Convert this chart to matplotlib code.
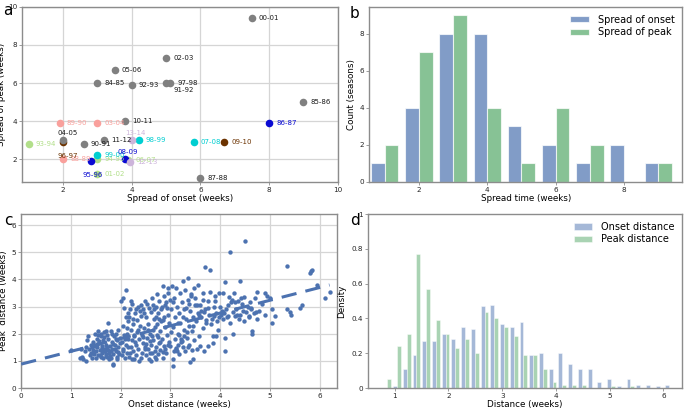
import numpy as np
import matplotlib
matplotlib.use("Agg")
import matplotlib.pyplot as plt
from matplotlib.ticker import FuncFormatter

# ---------------- data: panel a ----------------
seasons = ["84-85", "85-86", "86-87", "87-88", "88-89", "89-90", "90-91", "91-92",
           "92-93", "93-94", "94-95", "95-96", "96-97", "97-98", "98-99", "99-00",
           "00-01", "01-02", "02-03", "03-04", "04-05", "05-06", "06-07", "07-08",
           "08-09", "09-10", "10-11", "11-12", "12-13", "13-14"]
spread_onset = [3.0, 9.0, 8.0, 6.0, 2.0, 1.9, 2.6, 5.0, 4.0, 1.0, 3.0, 2.8, 2.0, 5.1, 4.2,
                3.0, 7.5, 3.0, 5.0, 3.0, 2.0, 3.5, 3.9, 5.8, 3.8, 6.7, 3.8, 3.2, 3.95, 4.0]
spread_peak = [6.0, 5.0, 3.9, 1.0, 2.0, 3.9, 2.8, 6.0, 5.9, 2.8, 2.0, 1.9, 2.9, 6.0, 3.0,
               2.2, 9.4, 1.2, 7.3, 3.9, 3.0, 6.7, 1.95, 2.9, 2.0, 2.9, 4.0, 3.0, 1.85, 3.0]
season_group = ["gray", "gray", "blue", "gray", "salmon", "salmon", "gray", "gray",
                "gray", "lgreen", "lgreen", "blue", "brown", "gray", "cyan", "cyan",
                "gray", "lgreen", "gray", "salmon", "gray", "gray", "lgreen", "cyan",
                "blue", "brown", "gray", "gray", "lavender", "lavender"]

# ---------------- data: panel b ----------------
spread_weeks = [1, 2, 3, 4, 5, 6, 7, 8, 9]
onset_counts = [1, 4, 8, 8, 3, 2, 1, 2, 1]
peak_counts = [2, 7, 9, 4, 1, 4, 2, 0, 1]

# ---------------- data: panel c ----------------
onset_distance = [
    1.0, 1.18, 1.2, 1.22, 1.25, 1.28, 1.3, 1.3, 1.33, 1.35, 1.36, 1.38, 1.4, 1.4, 1.42, 1.43, 1.45, 1.45, 1.47, 1.48, 1.48,
    1.5, 1.5, 1.52, 1.53, 1.55, 1.55, 1.57, 1.58, 1.6, 1.6, 1.62, 1.63, 1.65, 1.65, 1.67, 1.68, 1.7, 1.7, 1.72, 1.72,
    1.74, 1.75, 1.75, 1.77, 1.78, 1.8, 1.8, 1.82, 1.83, 1.85, 1.85, 1.85, 1.86, 1.88, 1.9, 1.9, 1.92, 1.93, 1.95, 1.95,
    1.97, 1.98, 1.99, 1.6, 1.7, 1.55, 1.83, 1.65, 1.76, 1.92,
    2.0, 2.05, 2.1, 2.02, 2.03, 2.05, 2.05, 2.07, 2.08, 2.1, 2.1, 2.12, 2.13, 2.15, 2.15, 2.17, 2.18, 2.2, 2.2, 2.22,
    2.22, 2.23, 2.25, 2.25, 2.27, 2.28, 2.3, 2.3, 2.32, 2.33, 2.35, 2.35, 2.37, 2.38, 2.4, 2.4, 2.42, 2.43, 2.45, 2.45,
    2.47, 2.48, 2.48, 2.2, 2.15, 2.3, 2.4, 2.26, 2.36, 2.12,
    2.5, 2.5, 2.52, 2.53, 2.55, 2.55, 2.57, 2.58, 2.6, 2.6, 2.62, 2.63, 2.65, 2.65, 2.67, 2.68, 2.7, 2.7, 2.72, 2.73,
    2.75, 2.75, 2.77, 2.78, 2.8, 2.8, 2.82, 2.83, 2.85, 2.85, 2.87, 2.88, 2.9, 2.9, 2.92, 2.93, 2.95, 2.95, 2.97, 2.98,
    2.99, 2.6, 2.7, 2.8, 2.9, 2.66, 2.74, 2.84, 2.56, 2.94, 2.62, 2.78, 2.86, 2.96,
    3.0, 3.02, 3.03, 3.05, 3.05, 3.05, 3.07, 3.08, 3.1, 3.1, 3.12, 3.13, 3.15, 3.15, 3.17, 3.18, 3.2, 3.2, 3.22, 3.23,
    3.25, 3.25, 3.27, 3.28, 3.3, 3.3, 3.32, 3.33, 3.35, 3.35, 3.37, 3.38, 3.4, 3.4, 3.42, 3.43, 3.45, 3.45, 3.47, 3.48,
    3.49, 3.12, 3.18, 3.28, 3.38, 3.44,
    3.5, 3.52, 3.53, 3.55, 3.55, 3.57, 3.6, 3.6, 3.62, 3.65, 3.65, 3.67, 3.7, 3.7, 3.72, 3.75, 3.75, 3.78, 3.8, 3.8,
    3.82, 3.85, 3.85, 3.87, 3.88, 3.9, 3.92, 3.95, 3.97, 3.98, 3.58, 3.68, 3.92,
    4.0, 4.02, 4.05, 4.07, 4.1, 4.1, 4.1, 4.12, 4.15, 4.17, 4.2, 4.2, 4.22, 4.25, 4.25, 4.27, 4.3, 4.32, 4.35, 4.37,
    4.4, 4.4, 4.42, 4.45, 4.47, 4.5, 4.48, 4.15, 4.3, 4.05,
    4.52, 4.55, 4.58, 4.6, 4.63, 4.65, 4.65, 4.68, 4.7, 4.75, 4.75, 4.78, 4.85, 4.9, 4.9, 4.95,
    5.0, 5.05, 5.05, 5.1, 5.35, 5.35, 5.4, 5.42, 5.6, 5.65, 5.8, 5.83, 5.85, 5.95, 6.1, 6.2,
    1.45, 1.52, 1.58, 1.62, 1.68, 1.73, 1.78, 1.84, 1.88, 1.94, 1.56, 1.66, 1.71, 1.81, 1.91,
    2.04, 2.09, 2.14, 2.19, 2.24, 2.29, 2.34, 2.39, 2.44, 2.49, 2.06, 2.16, 2.26, 2.46,
    2.51, 2.54, 2.59, 2.64, 2.69, 2.71, 2.76, 2.81, 2.86, 2.91, 2.96, 2.58, 2.68, 2.88,
    3.01, 3.06, 3.11, 3.16, 3.21, 3.26, 3.31, 3.36, 3.41, 3.46, 3.14, 3.24, 3.34,
    3.54, 3.61, 3.66, 3.71, 3.76, 3.83, 3.89, 3.94,
    4.03, 4.13, 4.23, 4.33, 4.43,
    4.57, 4.62, 4.72]
peak_distance = [
    1.4, 1.12, 1.45, 1.15, 1.05, 1.35, 1.5, 1.0, 1.75, 1.9, 1.45, 1.2, 1.6, 1.3, 1.5, 1.1, 1.4, 1.7, 1.25, 2.0, 1.55,
    1.1, 1.35, 1.8, 1.5, 1.2, 2.1, 1.65, 1.4, 1.15, 1.9, 1.3, 1.55, 1.1, 1.75, 2.05, 1.45, 1.25, 1.6, 1.95, 1.15,
    1.4, 2.4, 1.8, 1.3, 1.55, 2.1, 1.1, 1.7, 1.45, 0.9, 0.85, 1.25, 1.9, 1.6, 2.0, 1.35, 1.15, 1.75, 2.15, 1.5,
    1.25, 1.85, 1.65, 2.0, 2.1, 1.95, 2.0, 1.35, 1.05, 1.05,
    3.2, 3.3, 3.6, 1.2, 1.7, 2.3, 1.45, 1.95, 1.1, 2.6, 1.6, 1.3, 2.0, 1.8, 2.45, 1.15, 2.9, 1.5, 2.15, 1.05,
    1.75, 3.1, 2.35, 1.35, 1.95, 2.75, 1.6, 1.2, 2.5, 2.05, 1.45, 3.0, 1.8, 2.3, 1.1, 2.65, 1.95, 1.3, 2.9, 1.65,
    2.2, 1.5, 3.2, 3.2, 2.75, 2.9, 3.05, 1.05, 1.0, 2.2,
    2.6, 1.2, 1.85, 3.1, 1.45, 2.35, 1.05, 2.0, 2.8, 1.6, 3.3, 1.3, 2.15, 1.75, 2.55, 1.15, 3.0, 1.5, 1.95, 2.35,
    1.25, 2.75, 1.65, 3.2, 2.1, 1.4, 2.9, 1.8, 1.1, 2.5, 3.4, 1.55, 2.25, 3.05, 1.3, 1.95, 2.7, 3.7, 1.7, 2.4,
    3.25, 1.0, 1.05, 1.7, 1.45, 2.9, 3.45, 3.0, 2.95, 2.95, 1.9, 2.55, 3.75, 3.5,
    1.55, 2.9, 3.75, 0.8, 1.05, 2.25, 1.35, 3.3, 1.8, 2.6, 1.45, 3.0, 2.0, 1.6, 2.75, 1.25, 3.5, 2.4, 1.7, 3.15,
    3.95, 1.5, 2.15, 2.9, 1.35, 3.6, 2.55, 1.85, 4.05, 3.25, 2.3, 1.6, 2.85, 0.95, 3.45, 1.4, 1.05, 2.6, 3.7, 1.75,
    3.05, 3.7, 1.95, 1.9, 3.1, 2.1,
    3.3, 2.45, 1.45, 3.8, 2.75, 1.9, 3.05, 1.55, 2.6, 3.5, 2.2, 1.35, 4.45, 2.9, 2.5, 3.2, 1.55, 2.7, 4.35, 3.55,
    2.35, 1.9, 1.65, 3.0, 2.65, 3.4, 2.75, 2.15, 3.5, 2.6, 2.7, 2.8, 1.9,
    3.0, 2.7, 3.5, 2.75, 3.9, 1.85, 1.35, 2.9, 2.65, 3.35, 5.0, 2.4, 3.15, 2.0, 2.8, 3.5, 2.65, 2.9, 3.2, 2.55,
    3.95, 2.7, 3.3, 2.85, 3.35, 5.4, 2.45, 3.05, 3.15, 2.55,
    2.8, 3.0, 2.65, 3.15, 2.9, 2.1, 2.0, 2.75, 3.3, 3.55, 2.55, 2.85, 3.1, 3.5, 2.7, 3.4,
    3.3, 2.9, 2.4, 2.65, 4.5, 2.9, 2.8, 2.7, 2.95, 3.05, 4.22, 4.3, 4.35, 3.8, 3.3, 3.55,
    1.28, 1.62, 1.22, 1.48, 1.38, 1.52, 1.18, 1.62, 1.42, 1.32, 1.72, 1.88, 1.18, 1.38, 1.82,
    1.38, 1.82, 1.52, 1.28, 2.55, 1.68, 2.12, 2.82, 1.88, 1.42, 2.95, 2.62, 1.92, 2.78,
    1.62, 2.12, 1.28, 3.05, 1.38, 2.62, 1.88, 2.48, 1.32, 3.15, 1.58, 1.72, 2.25, 2.62,
    2.05, 3.15, 1.48, 2.38, 1.82, 2.62, 2.95, 1.52, 3.38, 2.28, 1.38, 1.72, 2.05,
    3.05, 2.85, 3.25, 2.4, 2.95, 2.55, 3.2, 2.45,
    2.85, 2.6, 3.25, 2.7, 3.1,
    2.6, 2.95, 2.8]
fit_intercept = 0.88
fit_slope = 0.47
fit_x_end = 6.2

# ---------------- data: panel d ----------------
dist_min, dist_max, dist_nbins = 0.77, 6.2, 30
onset_density = [0.0, 0.01, 0.11, 0.19, 0.27, 0.27, 0.31, 0.28, 0.35, 0.34,
                 0.47, 0.48, 0.37, 0.35, 0.38, 0.19, 0.20, 0.11, 0.20, 0.14,
                 0.11, 0.11, 0.035, 0.05, 0.01, 0.05, 0.02, 0.02, 0.01, 0.02]
peak_density = [0.05, 0.24, 0.31, 0.77, 0.57, 0.39, 0.31, 0.23, 0.28, 0.20,
                0.44, 0.40, 0.35, 0.30, 0.19, 0.19, 0.11, 0.035, 0.02, 0.02,
                0.02, 0.0, 0.0, 0.01, 0.0, 0.01, 0.0, 0.0, 0.0, 0.0]

# ---------------- style ----------------
group_colors = {"gray": "#808080", "blue": "#0A0AD2", "salmon": "#F9A09C",
                "lgreen": "#B2DF8A", "lavender": "#CDB5DB", "cyan": "#00CED1",
                "brown": "#6B3200"}
label_colors = {"gray": "#1a1a1a"}
label_offsets = {"04-05": (-4, 5), "96-97": (-4, -10), "13-14": (-5, 5),
                 "08-09": (-5, 5), "95-96": (-6, -10), "91-92": (5, -5),
                 "97-98": (6, 0)}
BLUE = "#4C72B0"
GREEN = "#55A868"
SPINE = "#8c8c8c"
GRID = "#d5d5d5"
TICK_FS = 5.2
LABEL_FS = 6.3

plt.rcParams["font.family"] = ["DejaVu Sans"]
fig = plt.figure(figsize=(6.85, 4.08), dpi=100)


def style_axes(ax, grid):
    for s in ax.spines.values():
        s.set_color(SPINE)
        s.set_linewidth(1.0)
    ax.tick_params(labelsize=TICK_FS, length=2, width=0.6, color=SPINE, pad=1.5,
                   labelcolor="#262626")
    if grid:
        ax.grid(True, color=GRID, linewidth=0.9)
        ax.set_axisbelow(True)


# ---- panel a ----
axa = fig.add_axes([0.032, 0.554, 0.461, 0.429])
style_axes(axa, True)
for s, x, y, g in zip(seasons, spread_onset, spread_peak, season_group):
    c = group_colors[g]
    axa.scatter(x, y, s=30, color=c, zorder=3, linewidths=0)
    dx, dy = label_offsets.get(s, (5, 0))
    axa.annotate(s, (x, y), xytext=(dx, dy), textcoords="offset points",
                 fontsize=5, color=label_colors.get(g, c), va="center", ha="left",
                 zorder=4)
axa.set_xlim(0.8, 10)
axa.set_ylim(0.8, 10)
axa.set_xticks([2, 4, 6, 8, 10])
axa.set_yticks([2, 4, 6, 8, 10])
axa.set_xlabel("Spread of onset (weeks)", fontsize=LABEL_FS, labelpad=1)
axa.set_ylabel("Spread of peak (weeks)", fontsize=LABEL_FS, labelpad=1.5)

# ---- panel b ----
axb = fig.add_axes([0.539, 0.554, 0.457, 0.429])
style_axes(axb, False)
bins_b = np.arange(min(spread_weeks) - 0.5, max(spread_weeks) + 1, 1)
axb.hist([spread_weeks, spread_weeks], bins=bins_b, weights=[onset_counts, peak_counts],
         color=[BLUE, GREEN], alpha=0.7, edgecolor="white", linewidth=0.8,
         label=["Spread of onset", "Spread of peak"])
axb.set_xlim(0.55, 9.7)
axb.set_xticks([2, 4, 6, 8])
axb.set_yticks([0, 2, 4, 6, 8])
axb.set_xlabel("Spread time (weeks)", fontsize=LABEL_FS, labelpad=1)
axb.set_ylabel("Count (seasons)", fontsize=LABEL_FS, labelpad=3)
axb.legend(loc="upper right", frameon=False, fontsize=7, handlelength=1.9,
           handleheight=0.6, borderaxespad=0.4, labelspacing=0.25, handletextpad=0.9)

# ---- panel c ----
axc = fig.add_axes([0.031, 0.049, 0.461, 0.426])
style_axes(axc, True)
axc.scatter(onset_distance, peak_distance, s=10, color=BLUE, linewidths=0, zorder=3)
xf = np.array([0, fit_x_end])
axc.plot(xf, fit_intercept + fit_slope * xf, "--", color=BLUE, lw=2.2,
         dashes=(5, 3), zorder=4)
axc.set_xlim(0, 6.35)
axc.set_ylim(0, 6.4)
axc.set_xticks(range(0, 7))
axc.set_yticks(range(0, 7))
axc.set_xlabel("Onset distance (weeks)", fontsize=LABEL_FS, labelpad=1)
axc.set_ylabel("Peak  distance (weeks)", fontsize=LABEL_FS, labelpad=3)

# ---- panel d ----
axd = fig.add_axes([0.537, 0.049, 0.459, 0.426])
style_axes(axd, False)
edges_d = np.linspace(dist_min, dist_max, dist_nbins + 1)
centers_d = (edges_d[:-1] + edges_d[1:]) / 2
axd.hist([centers_d, centers_d], bins=edges_d, weights=[onset_density, peak_density],
         color=[BLUE, GREEN], alpha=0.5, edgecolor="white", linewidth=0.6,
         label=["Onset distance", "Peak distance"])
axd.set_xlim(0.5, 6.35)
axd.set_ylim(0, 1)
axd.set_xticks([1, 2, 3, 4, 5, 6])
axd.set_yticks([0, 0.2, 0.4, 0.6, 0.8, 1.0])
axd.yaxis.set_major_formatter(FuncFormatter(lambda v, p: f"{v:g}"))
axd.set_xlabel("Distance (weeks)", fontsize=LABEL_FS, labelpad=1)
axd.set_ylabel("Density", fontsize=LABEL_FS, labelpad=4)
axd.legend(loc="upper right", frameon=False, fontsize=7, handlelength=1.9,
           handleheight=0.6, borderaxespad=0.4, labelspacing=0.25, handletextpad=0.9)

# panel letters
for txt, x, y in [("a", 0.004, 0.992), ("b", 0.511, 0.985), ("c", 0.006, 0.478), ("d", 0.511, 0.478)]:
    fig.text(x, y, txt, fontsize=11, va="top", ha="left")

fig.savefig("out.png", dpi=100)
